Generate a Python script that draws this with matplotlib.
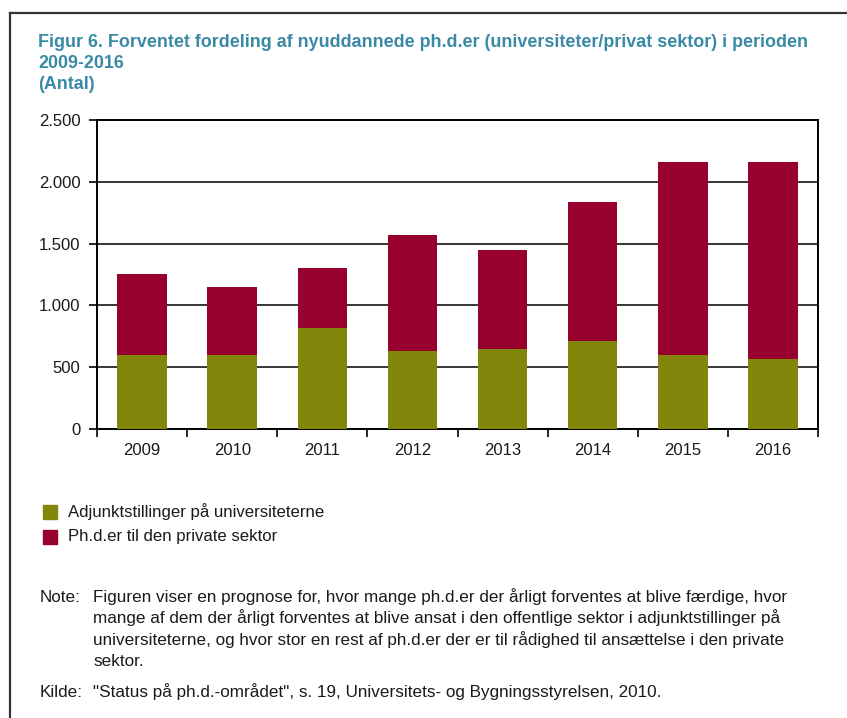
import matplotlib
matplotlib.use("Agg")
import matplotlib.pyplot as plt
import numpy as np
from matplotlib.patches import Rectangle
from matplotlib.lines import Line2D

plt.rcParams["font.family"] = ["Liberation Sans", "DejaVu Sans"]

years = ["2009", "2010", "2011", "2012", "2013", "2014", "2015", "2016"]
adjunkt = [600, 600, 820, 630, 645, 710, 600, 570]
privat = [655, 550, 485, 940, 800, 1130, 1560, 1590]
yticks = [0, 500, 1000, 1500, 2000, 2500]
ylabels = ["0", "500", "1.000", "1.500", "2.000", "2.500"]

GREEN = "#82860b"
RED = "#98002e"
TEAL = "#3a8aa6"
TXT = "#1a1a1a"

fig = plt.figure(figsize=(8.47, 7.18), dpi=100)
ax = fig.add_axes([97 / 847, 1 - 429 / 718, 721 / 847, 309 / 718])

x = np.arange(len(years))
ax.bar(x, adjunkt, width=0.55, color=GREEN, zorder=3)
ax.bar(x, privat, width=0.55, bottom=adjunkt, color=RED, zorder=3)

ax.set_xlim(-0.5, len(years) - 0.5)
ax.set_ylim(0, 2500)
ax.set_yticks(yticks)
ax.set_yticklabels(ylabels, fontsize=12, color=TXT)
ax.set_xticks(x)
ax.set_xticklabels(years, fontsize=12, color=TXT)
ax.tick_params(axis="x", length=0, pad=10)
ax.set_xticks(np.arange(-0.5, len(years) + 0.5, 1), minor=True)
ax.tick_params(axis="x", which="minor", length=6, width=1.2, direction="out")
ax.tick_params(axis="y", length=6, width=1.2, direction="out", pad=6)
ax.yaxis.grid(True, color="black", linewidth=1.1, zorder=0)
ax.set_axisbelow(True)
for s in ax.spines.values():
    s.set_linewidth(1.4)
    s.set_color("black")

# frame (top and left lines)
fig.add_artist(Line2D([10 / 847, 1.0], [1 - 13 / 718] * 2, color="#333333", lw=1.6))
fig.add_artist(Line2D([10 / 847] * 2, [0, 1 - 13 / 718], color="#333333", lw=1.6))

# title
title_kw = dict(fontsize=12.9, fontweight="bold", color=TEAL, va="baseline")
fig.text(38 / 847, 1 - 47 / 718,
         "Figur 6. Forventet fordeling af nyuddannede ph.d.er (universiteter/privat sektor) i perioden",
         **title_kw)
fig.text(38 / 847, 1 - 68 / 718, "2009-2016", **title_kw)
fig.text(38 / 847, 1 - 89 / 718, "(Antal)", **title_kw)

# legend
for i, (lab, col) in enumerate([("Adjunktstillinger på universiteterne", GREEN),
                                 ("Ph.d.er til den private sektor", RED)]):
    yc = 512 + i * 25
    fig.add_artist(Rectangle((43 / 847, 1 - (yc + 7) / 718), 14 / 847, 14 / 718,
                             color=col, transform=fig.transFigure))
    fig.text(68 / 847, 1 - yc / 718, lab, fontsize=12.1, color=TXT, va="center")

# note and source
note_lines = ["Figuren viser en prognose for, hvor mange ph.d.er der årligt forventes at blive færdige, hvor",
              "mange af dem der årligt forventes at blive ansat i den offentlige sektor i adjunktstillinger på",
              "universiteterne, og hvor stor en rest af ph.d.er der er til rådighed til ansættelse i den private",
              "sektor."]
fig.text(40 / 847, 1 - 602 / 718, "Note:", fontsize=12.3, color=TXT, va="baseline")
for i, line in enumerate(note_lines):
    fig.text(93 / 847, 1 - (602 + i * 21.5) / 718, line, fontsize=12.3, color=TXT, va="baseline")
fig.text(40 / 847, 1 - 697 / 718, "Kilde:", fontsize=12.3, color=TXT, va="baseline")
fig.text(93 / 847, 1 - 697 / 718,
         "\"Status på ph.d.-området\", s. 19, Universitets- og Bygningsstyrelsen, 2010.",
         fontsize=12.3, color=TXT, va="baseline")

fig.savefig("out.png", dpi=100, facecolor="white")
